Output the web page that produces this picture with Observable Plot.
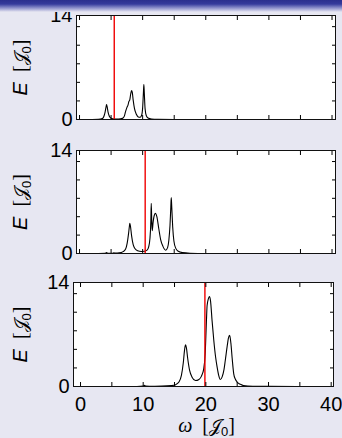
<!DOCTYPE html>
<html><head><meta charset="utf-8">
<script src="https://cdn.jsdelivr.net/npm/d3@7"></script>
<script src="https://cdn.jsdelivr.net/npm/@observablehq/plot@0.6"></script>
<style>
html,body{margin:0;padding:0;}
body{width:342px;height:438px;overflow:hidden;background:#e7e7f2;position:relative;font-family:"Liberation Sans",Arial,sans-serif;}
#bar{position:absolute;left:0;top:0;width:342px;height:12px;background:linear-gradient(#2b2f8e 0px,#353a9c 4px,#8e91cc 8px,#e7e7f2 12px);}
.panel{position:absolute;left:0;width:342px;}
.panel svg{display:block;overflow:visible;}
</style></head><body>
<div id="p1" class="panel" style="top:0"></div>
<div id="p2" class="panel" style="top:135px"></div>
<div id="p3" class="panel" style="top:270px"></div>
<div id="bar"></div>
<script>
// ---- data ----
const omega1  = [0,2,3,3.6,3.85,4.05,4.18,4.28,4.38,4.52,4.72,5.0,5.5,6.2,6.8,7.1,7.3,7.5,7.7,7.81,7.95,8.1,8.24,8.35,8.5,8.7,9.0,9.3,9.6,9.85,10.0,10.12,10.19,10.26,10.38,10.58,10.85,11.4,12.4,15,40];
const energy1 = [0,0.01,0.03,0.12,0.4,1.0,1.6,2.0,1.7,1.0,0.45,0.18,0.07,0.06,0.15,0.45,1.1,1.6,2.0,2.4,2.6,3.4,3.9,3.7,2.6,1.5,0.7,0.35,0.3,0.6,1.6,3.6,4.7,3.6,1.5,0.5,0.2,0.07,0.02,0,0];

const omega2  = [0,3,4.05,4.28,4.5,5.25,5.45,5.65,6.3,6.9,7.3,7.55,7.75,7.9,7.97,8.07,8.25,8.5,8.8,9.2,9.8,10.3,10.7,10.95,11.15,11.3,11.36,11.44,11.52,11.65,11.85,12.04,12.25,12.55,12.85,13.2,13.65,13.95,14.15,14.33,14.46,14.53,14.61,14.76,14.95,15.25,15.65,16.3,17.5,20,40];
const energy2 = [0,0.01,0.03,0.12,0.03,0.04,0.1,0.05,0.08,0.25,0.6,1.4,2.6,3.7,4.1,3.7,2.4,1.2,0.65,0.38,0.28,0.3,0.45,0.9,2.0,4.5,6.8,4.5,3.1,4.2,5.2,5.45,5.0,3.4,1.9,1.0,0.45,0.8,1.8,3.8,6.3,7.6,6.3,3.6,1.7,0.7,0.3,0.12,0.04,0.01,0];

const omega3  = [0,9,10,10.2,10.4,11,13,14.5,15.2,15.7,16.1,16.4,16.6,16.75,16.9,17.1,17.4,17.8,18.35,18.9,19.3,19.67,19.9,20.1,20.2,20.4,20.57,20.75,21.0,21.27,21.55,21.8,22.05,22.3,22.6,22.9,23.1,23.4,23.6,23.8,24.0,24.2,24.45,24.7,25.0,25.5,26,27.5,30,40];
const energy3 = [0,0.01,0.05,0.15,0.05,0.04,0.05,0.12,0.25,0.6,1.5,3.2,4.9,5.6,5.2,3.8,2.2,1.25,0.8,0.95,1.4,2.4,4.5,9.0,10.9,11.8,12.1,11.5,8.8,6.2,4.0,2.6,1.5,0.95,1.3,2.3,3.5,5.4,6.5,6.9,5.8,3.8,1.7,1.0,0.6,0.3,0.12,0.04,0.02,0];

const driveFrequency = [5.5, 10.4, 19.85];   // red vertical lines
const yLabelTicks = [0, 14];
const yMinorTicks = [0, 2.5, 5, 7.5, 10, 12.5];
const xLabelTicks = [0, 10, 20, 30, 40];
const xMinorTicks = [0, 5, 10, 15, 20, 25, 30, 35, 40];
const yTitle = "E [J0]";
const xTitle = "ω [J0]";

function panel(omega, energy, drive, cfg) {
  const data = omega.map((w, i) => ({w, e: energy[i]}));
  const marks = [
    Plot.frame({fill: "white", stroke: "none"}),
    Plot.line(data, {x: "w", y: "e", stroke: "black", strokeWidth: 1.1, curve: "monotone-x", clip: true}),
    Plot.ruleX([drive], {stroke: "#f00000", strokeWidth: 1.4}),
    Plot.axisY(yMinorTicks, {anchor: "left", tickSize: -4, text: null, label: null}),
    Plot.axisY(yMinorTicks, {anchor: "right", tickSize: -4, text: null, label: null}),
    Plot.axisX(xMinorTicks, {anchor: "bottom", tickSize: -4, text: null, label: null}),
    Plot.axisX(xMinorTicks, {anchor: "top", tickSize: -4, text: null, label: null}),
    Plot.axisY(yLabelTicks, {anchor: "left", tickSize: 0, tickPadding: 4, fontSize: 20, label: null}),
    Plot.text([yTitle], {text: d => d, frameAnchor: "left", dx: -(cfg.ml - 20), rotate: -90, fontSize: 20, textAnchor: "start", lineAnchor: "middle"}),
    Plot.frame({stroke: "#111", strokeWidth: 1})
  ];
  if (cfg.showX) {
    marks.push(Plot.axisX(xLabelTicks, {anchor: "bottom", tickSize: 0, tickPadding: 10, fontSize: 20, label: null}));
    marks.push(Plot.text([xTitle], {text: d => d, frameAnchor: "bottom", dy: 39, dx: 3, fontSize: 20, textAnchor: "start", lineAnchor: "middle"}));
  }
  return Plot.plot({
    width: 342, height: cfg.h,
    marginTop: cfg.mt, marginBottom: cfg.mb, marginLeft: cfg.ml, marginRight: cfg.mr,
    x: {domain: cfg.xd, axis: null},
    y: {domain: [0, 14], axis: null},
    style: {background: "transparent", fontFamily: "'Liberation Sans', Arial, sans-serif", color: "black"},
    marks
  });
}

document.getElementById("p1").append(panel(omega1, energy1, driveFrequency[0], {h: 135, mt: 15, mb: 16, ml: 76, mr: 7, xd: [-0.48, 40.55]}));
document.getElementById("p2").append(panel(omega2, energy2, driveFrequency[1], {h: 135, mt: 15, mb: 17, ml: 76, mr: 7, xd: [-0.48, 40.55]}));
document.getElementById("p3").append(panel(omega3, energy3, driveFrequency[2], {h: 168, mt: 12, mb: 52, ml: 73, mr: 9, xd: [-1.12, 40.37], showX: true}));

// rich formatting of the axis titles (italic symbol, script J, subscript 0), then centre them
function rich(placeholder, symbol, symFont) {
  d3.selectAll("text").filter(function () { return this.textContent === placeholder; }).each(function () {
    const t = d3.select(this);
    t.text(null);
    t.append("tspan").attr("font-style", "italic").attr("font-family", symFont).text(symbol);
    t.append("tspan").attr("font-family", "'Liberation Serif', serif").text("\u2002[");
    t.append("tspan").attr("font-family", "'DejaVu Serif', 'Liberation Serif', serif").attr("font-size", 18).text("\u{1D4A5}");
    t.append("tspan").attr("font-size", 13).attr("dy", 4).text("0");
    t.append("tspan").attr("font-family", "'Liberation Serif', serif").attr("dy", -4).text("]");
    const len = this.getComputedTextLength();
    t.attr("x", -len / 2);
  });
}
rich(yTitle, "E", "'Liberation Sans', Arial, sans-serif");
rich(xTitle, "ω", "'Liberation Serif', serif");
</script>
</body></html>
